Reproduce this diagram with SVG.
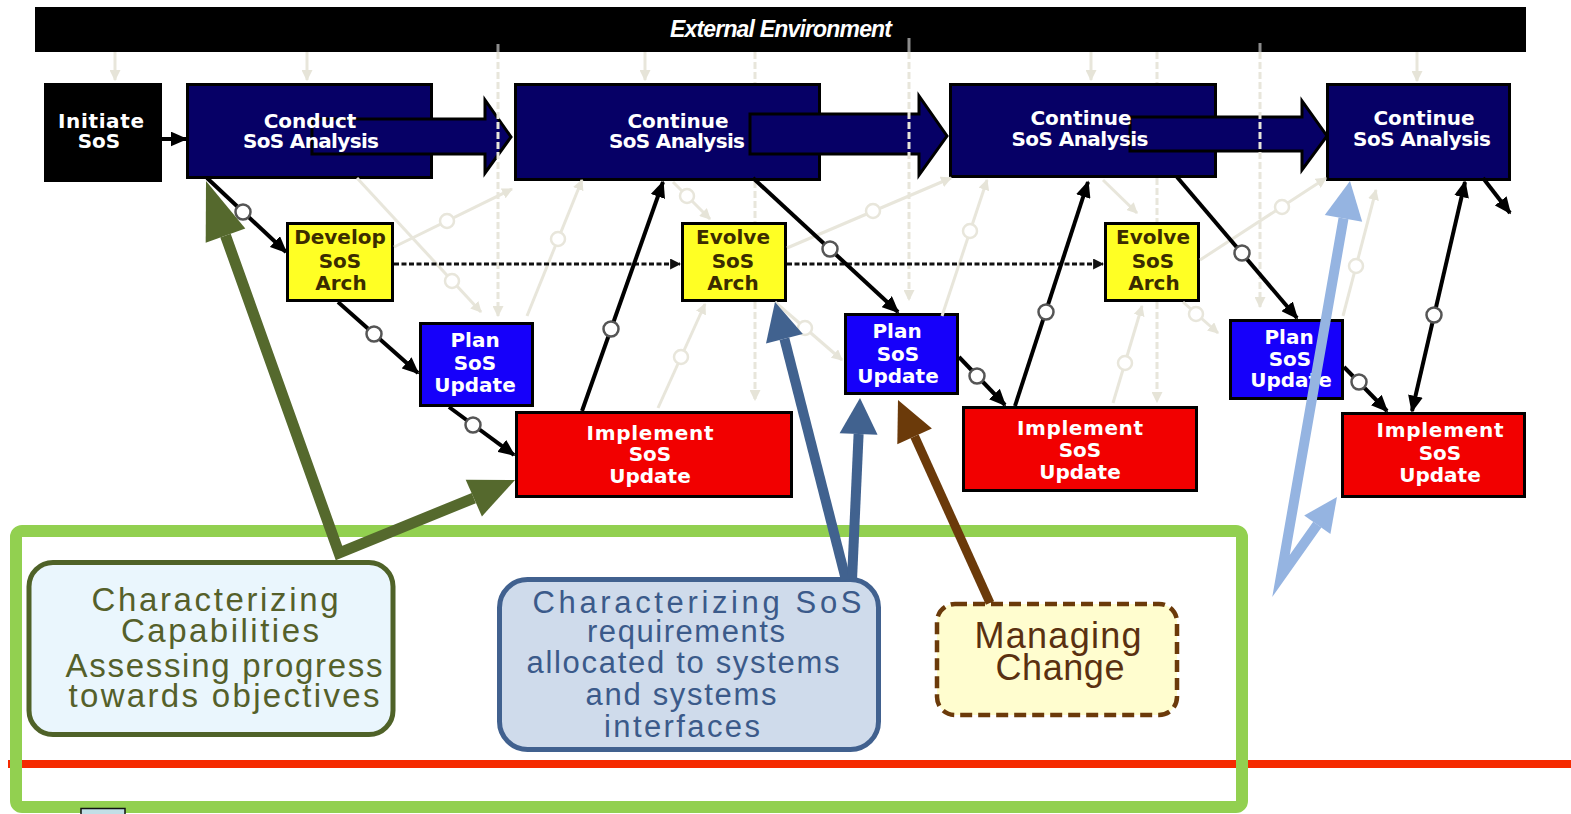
<svg xmlns="http://www.w3.org/2000/svg" width="1571" height="814" viewBox="0 0 1571 814">
  <defs>
    <style>
      .bar { fill: #000; }
      .bar-text { font-family: "Liberation Sans", Arial, sans-serif; font-size: 23px; font-weight: bold; font-style: italic; fill: #fff; text-anchor: middle; }
      .navy { fill: #060066; stroke: #000; stroke-width: 3; }
      .init { fill: #000; }
      .yellow { fill: #ffff24; stroke: #000; stroke-width: 3; }
      .plan { fill: #1600fa; stroke: #000; stroke-width: 3; }
      .impl { fill: #f20000; stroke: #000; stroke-width: 3; }
      .stage-arrow { fill: #060066; stroke: #000; stroke-width: 3; stroke-linejoin: miter; }
      .lbl { font-family: "DejaVu Sans", Verdana, sans-serif; font-size: 20px; font-weight: bold; text-anchor: middle; fill: #fff; }
      .lbl-dark { font-family: "DejaVu Sans", Verdana, sans-serif; font-size: 20px; font-weight: bold; text-anchor: middle; fill: #3b2c00; }
      .ghost line, .ghost path { stroke: #e8e6db; stroke-width: 3; fill: none; }
      .ghost .dash { stroke-dasharray: 7 3; }
      .ghost circle { fill: #fff; stroke: #e8e6db; stroke-width: 2.5; }
      .ghost-tip { fill: #8c8c8c; }
      .flow { stroke: #000; stroke-width: 4; fill: none; }
      .dotted { stroke: #111; stroke-width: 3; stroke-dasharray: 5 2.5; fill: none; }
      .node-dot { fill: #fff; stroke: #555; stroke-width: 2.5; }
      .frame { fill: none; stroke: #92d050; stroke-width: 12; }
      .redline { fill: #f52a00; }
      .note-cap { fill: #eaf6fd; stroke: #4f6228; stroke-width: 5; }
      .note-req { fill: #cfdbeb; stroke: #41618f; stroke-width: 5; }
      .note-chg { fill: #fffdcf; stroke: #6b3a0a; stroke-width: 4.5; stroke-dasharray: 12 6; }
      .note-text { font-family: "Liberation Sans", Arial, sans-serif; text-anchor: middle; }
    </style>
    <marker id="head-black" viewBox="0 0 10 10" markerUnits="userSpaceOnUse" markerWidth="17" markerHeight="15" refX="9" refY="5" orient="auto" preserveAspectRatio="none">
      <path d="M0,0 L10,5 L0,10 Z" fill="#000"/>
    </marker>
    <marker id="head-black-both" viewBox="0 0 10 10" markerUnits="userSpaceOnUse" markerWidth="17" markerHeight="15" refX="9" refY="5" orient="auto-start-reverse" preserveAspectRatio="none">
      <path d="M0,0 L10,5 L0,10 Z" fill="#000"/>
    </marker>
    <marker id="head-small" viewBox="0 0 10 10" markerUnits="userSpaceOnUse" markerWidth="11" markerHeight="11" refX="9" refY="5" orient="auto" preserveAspectRatio="none">
      <path d="M0,0 L10,5 L0,10 Z" fill="#111"/>
    </marker>
    <marker id="head-ghost" viewBox="0 0 10 10" markerUnits="userSpaceOnUse" markerWidth="11" markerHeight="11" refX="9" refY="5" orient="auto" preserveAspectRatio="none">
      <path d="M0,0 L10,5 L0,10 Z" fill="#e6e4d8"/>
    </marker>
  </defs>

  <rect width="1571" height="814" fill="#fff"/>

  <!-- bottom band: red rule and green frame -->
  <rect class="redline" x="8" y="760" width="1563" height="8"/>
  <rect class="frame" x="16" y="531" width="1226" height="276" rx="6"/>
  <rect x="81" y="808.5" width="44" height="12" fill="#c2dfe6" stroke="#111" stroke-width="1.5"/>

  <!-- environment bar -->
  <g id="external-environment">
    <rect class="bar" x="35" y="7" width="1491" height="45"/>
    <text class="bar-text" x="781" y="37" textLength="222">External Environment</text>
  </g>

  <!-- process nodes -->
  <g id="initiate-sos">
    <rect class="init" x="44" y="83" width="118" height="99"/>
    <text class="lbl" x="101" y="128" textLength="86">Initiate</text>
    <text class="lbl" x="99" y="148">SoS</text>
  </g>

  <g id="conduct-sos-analysis">
    <rect class="navy" x="187.5" y="84.5" width="244" height="93"/>
    <path class="stage-arrow" d="M312,119 H485 V100 L511,137 L485,173 V154 H312 Z"/>
    <text class="lbl" x="310" y="128">Conduct</text>
    <text class="lbl" x="311" y="148" textLength="136">SoS Analysis</text>
  </g>

  <g id="continue-sos-analysis-1">
    <rect class="navy" x="515.5" y="84.5" width="304" height="95"/>
    <path class="stage-arrow" d="M750,114 H919 V96 L947,136 L919,175 V154 H750 Z"/>
    <text class="lbl" x="678" y="128">Continue</text>
    <text class="lbl" x="677" y="148" textLength="136">SoS Analysis</text>
  </g>

  <g id="continue-sos-analysis-2">
    <rect class="navy" x="950.5" y="84.5" width="265" height="92"/>
    <path class="stage-arrow" d="M1130,117 H1302 V101 L1327,136 L1302,170 V151 H1130 Z"/>
    <text class="lbl" x="1081" y="125">Continue</text>
    <text class="lbl" x="1080" y="146" textLength="137">SoS Analysis</text>
  </g>

  <g id="continue-sos-analysis-3">
    <rect class="navy" x="1327.5" y="84.5" width="182" height="95"/>
    <text class="lbl" x="1424" y="125">Continue</text>
    <text class="lbl" x="1422" y="146" textLength="138">SoS Analysis</text>
  </g>

  <g id="develop-sos-arch">
    <rect class="yellow" x="287.5" y="223.5" width="105" height="77"/>
    <text class="lbl-dark" x="340" y="244">Develop</text>
    <text class="lbl-dark" x="340" y="268">SoS</text>
    <text class="lbl-dark" x="341" y="290">Arch</text>
  </g>

  <g id="evolve-sos-arch-1">
    <rect class="yellow" x="682.5" y="223.5" width="103" height="77"/>
    <text class="lbl-dark" x="733" y="244">Evolve</text>
    <text class="lbl-dark" x="733" y="268">SoS</text>
    <text class="lbl-dark" x="733" y="290">Arch</text>
  </g>

  <g id="evolve-sos-arch-2">
    <rect class="yellow" x="1105.5" y="223.5" width="93" height="77"/>
    <text class="lbl-dark" x="1153" y="244">Evolve</text>
    <text class="lbl-dark" x="1153" y="268">SoS</text>
    <text class="lbl-dark" x="1154" y="290">Arch</text>
  </g>

  <g id="plan-sos-update-1">
    <rect class="plan" x="420.5" y="323.5" width="112" height="82"/>
    <text class="lbl" x="475" y="347">Plan</text>
    <text class="lbl" x="475" y="370">SoS</text>
    <text class="lbl" x="475" y="392">Update</text>
  </g>

  <g id="plan-sos-update-2">
    <rect class="plan" x="845.5" y="314.5" width="112" height="79"/>
    <text class="lbl" x="897" y="338">Plan</text>
    <text class="lbl" x="898" y="361">SoS</text>
    <text class="lbl" x="898" y="383">Update</text>
  </g>

  <g id="plan-sos-update-3">
    <rect class="plan" x="1230.5" y="320.5" width="112" height="78"/>
    <text class="lbl" x="1289" y="344">Plan</text>
    <text class="lbl" x="1290" y="366">SoS</text>
    <text class="lbl" x="1291" y="387">Update</text>
  </g>

  <g id="implement-sos-update-1">
    <rect class="impl" x="516.5" y="412.5" width="275" height="84"/>
    <text class="lbl" x="650" y="440" textLength="127">Implement</text>
    <text class="lbl" x="650" y="461">SoS</text>
    <text class="lbl" x="650" y="483">Update</text>
  </g>

  <g id="implement-sos-update-2">
    <rect class="impl" x="963.5" y="407.5" width="233" height="83"/>
    <text class="lbl" x="1080" y="435" textLength="126">Implement</text>
    <text class="lbl" x="1080" y="457">SoS</text>
    <text class="lbl" x="1080" y="479">Update</text>
  </g>

  <g id="implement-sos-update-3">
    <rect class="impl" x="1342.5" y="413.5" width="182" height="83"/>
    <text class="lbl" x="1440" y="437" textLength="127">Implement</text>
    <text class="lbl" x="1440" y="460">SoS</text>
    <text class="lbl" x="1440" y="482">Update</text>
  </g>

  <!-- annotation notes -->
  <g id="characterizing-capabilities">
    <rect class="note-cap" x="29" y="562.5" width="364" height="172" rx="24"/>
    <g class="note-text" fill="#55602a" font-size="33">
      <text x="215" y="611" textLength="247">Characterizing</text>
      <text x="220" y="642" textLength="198">Capabilities</text>
      <text x="224" y="677" textLength="317">Assessing progress</text>
      <text x="224" y="707" textLength="311">towards objectives</text>
    </g>
  </g>

  <g id="characterizing-sos-requirements">
    <rect class="note-req" x="499.5" y="579.5" width="379" height="170" rx="28"/>
    <g class="note-text" fill="#3b5a8a" font-size="31">
      <text x="697" y="613" textLength="329">Characterizing SoS</text>
      <text x="686" y="642" textLength="198">requirements</text>
      <text x="683" y="673" textLength="313">allocated to systems</text>
      <text x="681" y="705" textLength="191">and systems</text>
      <text x="682" y="737" textLength="156">interfaces</text>
    </g>
  </g>

  <g id="managing-change">
    <rect class="note-chg" x="937" y="604" width="240" height="111" rx="18"/>
    <g class="note-text" fill="#5a3010" font-size="36">
      <text x="1058" y="648" textLength="167">Managing</text>
      <text x="1060" y="680" textLength="129">Change</text>
    </g>
  </g>

  <!-- faint background flow -->
  <g id="background-flow" class="ghost">
    <rect class="ghost-tip" x="496.5" y="44" width="3" height="8"/>
    <rect class="ghost-tip" x="907.5" y="38" width="3" height="14"/>
    <rect class="ghost-tip" x="1258.5" y="43" width="3" height="9"/>
    <line class="dash" x1="498" y1="52" x2="498" y2="316" marker-end="url(#head-ghost)"/>
    <line class="dash" x1="755" y1="52" x2="755" y2="83"/>
    <line class="dash" x1="755" y1="181" x2="755" y2="222"/>
    <line class="dash" x1="755" y1="302" x2="755" y2="400" marker-end="url(#head-ghost)"/>
    <line class="dash" x1="909" y1="52" x2="909" y2="300" marker-end="url(#head-ghost)"/>
    <line class="dash" x1="1157" y1="52" x2="1157" y2="83"/>
    <line class="dash" x1="1157" y1="178" x2="1157" y2="222"/>
    <line class="dash" x1="1157" y1="302" x2="1157" y2="402" marker-end="url(#head-ghost)"/>
    <line class="dash" x1="1260" y1="52" x2="1260" y2="307" marker-end="url(#head-ghost)"/>
    <line x1="115" y1="52" x2="115" y2="80" marker-end="url(#head-ghost)"/>
    <line x1="307" y1="52" x2="307" y2="80" marker-end="url(#head-ghost)"/>
    <line x1="645" y1="52" x2="645" y2="80" marker-end="url(#head-ghost)"/>
    <line x1="1091" y1="52" x2="1091" y2="80" marker-end="url(#head-ghost)"/>
    <line x1="1417" y1="52" x2="1417" y2="81" marker-end="url(#head-ghost)"/>
    <line x1="357" y1="178" x2="481" y2="312" marker-end="url(#head-ghost)"/>
    <circle cx="452" cy="281" r="7"/>
    <line x1="394" y1="247" x2="512" y2="189" marker-end="url(#head-ghost)"/>
    <circle cx="447" cy="221" r="7"/>
    <line x1="527" y1="316" x2="582" y2="180" marker-end="url(#head-ghost)"/>
    <circle cx="558" cy="239" r="7"/>
    <line x1="673" y1="182" x2="710" y2="219" marker-end="url(#head-ghost)"/>
    <circle cx="687" cy="196" r="7"/>
    <line x1="658" y1="408" x2="705" y2="304" marker-end="url(#head-ghost)"/>
    <circle cx="681" cy="357" r="7"/>
    <line x1="787" y1="248" x2="951" y2="178" marker-end="url(#head-ghost)"/>
    <circle cx="873" cy="211" r="7"/>
    <line x1="942" y1="316" x2="987" y2="180" marker-end="url(#head-ghost)"/>
    <circle cx="970" cy="231" r="7"/>
    <line x1="775" y1="302" x2="842" y2="360" marker-end="url(#head-ghost)"/>
    <circle cx="805" cy="328" r="7"/>
    <line x1="1103" y1="180" x2="1137" y2="213" marker-end="url(#head-ghost)"/>
    <line x1="1200" y1="260" x2="1326" y2="178" marker-end="url(#head-ghost)"/>
    <circle cx="1282" cy="207" r="7"/>
    <line x1="1343" y1="316" x2="1376" y2="190" marker-end="url(#head-ghost)"/>
    <circle cx="1356" cy="266" r="7"/>
    <line x1="1183" y1="302" x2="1218" y2="333" marker-end="url(#head-ghost)"/>
    <circle cx="1196" cy="314" r="7"/>
    <line x1="1113" y1="403" x2="1142" y2="306" marker-end="url(#head-ghost)"/>
    <circle cx="1125" cy="363" r="7"/>
  </g>

  <!-- connectors -->
  <g id="connectors">
    <line class="flow" x1="162" y1="139" x2="186" y2="139" marker-end="url(#head-black)"/>

    <line class="dotted" x1="394" y1="264" x2="680" y2="264" marker-end="url(#head-small)"/>
    <line class="dotted" x1="787" y1="264" x2="1103" y2="264" marker-end="url(#head-small)"/>

    <line class="flow" x1="207" y1="178" x2="286" y2="252" marker-end="url(#head-black)"/>
    <circle class="node-dot" cx="243" cy="212" r="7.5"/>
    <line class="flow" x1="338" y1="302" x2="418" y2="373" marker-end="url(#head-black)"/>
    <circle class="node-dot" cx="374" cy="334" r="7.5"/>
    <line class="flow" x1="449" y1="407" x2="514" y2="455" marker-end="url(#head-black)"/>
    <circle class="node-dot" cx="473" cy="425" r="7.5"/>
    <line class="flow" x1="582" y1="411" x2="663" y2="182" marker-end="url(#head-black)"/>
    <circle class="node-dot" cx="611" cy="329" r="7.5"/>
    <line class="flow" x1="753" y1="178" x2="898" y2="312" marker-end="url(#head-black)"/>
    <circle class="node-dot" cx="830" cy="249" r="7.5"/>
    <line class="flow" x1="959" y1="357" x2="1005" y2="405" marker-end="url(#head-black)"/>
    <circle class="node-dot" cx="977" cy="376" r="7.5"/>
    <line class="flow" x1="1015" y1="406" x2="1088" y2="182" marker-end="url(#head-black)"/>
    <circle class="node-dot" cx="1046" cy="312" r="7.5"/>
    <line class="flow" x1="1177" y1="177" x2="1297" y2="318" marker-end="url(#head-black)"/>
    <circle class="node-dot" cx="1242" cy="253" r="7.5"/>
    <line class="flow" x1="1344" y1="367" x2="1387" y2="411" marker-end="url(#head-black)"/>
    <circle class="node-dot" cx="1359" cy="382" r="7.5"/>
    <line class="flow" x1="1412" y1="411" x2="1465" y2="182" marker-start="url(#head-black-both)" marker-end="url(#head-black-both)"/>
    <circle class="node-dot" cx="1434" cy="315" r="7.5"/>
    <line class="flow" x1="1483" y1="178" x2="1510" y2="213" marker-end="url(#head-black)"/>

    <!-- capability arrows -->
    <polyline points="225.5,235.6 339,553 473.8,498.1" fill="none" stroke="#55692d" stroke-width="11" stroke-linejoin="miter"/>
    <polygon points="206,181 245.3,228.6 205.7,242.7" fill="#55692d"/>
    <polygon points="515,480 481.9,516.4 465.7,479.8" fill="#55692d"/>

    <!-- requirements arrows -->
    <line x1="846" y1="580" x2="784.4" y2="338.8" stroke="#41628f" stroke-width="10"/>
    <line x1="852" y1="580" x2="858.6" y2="434" stroke="#41628f" stroke-width="10"/>
    <polygon points="775,302 802.8,334.1 766,343.5" fill="#41628f"/>
    <polygon points="860,398 877.6,434.7 839.6,433.3" fill="#41628f"/>

    <!-- change arrow -->
    <line x1="990" y1="603" x2="914.6" y2="436.4" stroke="#6b3a0a" stroke-width="9"/>
    <polygon points="898,400 931.9,428.5 897.3,444.3" fill="#6b3a0a"/>

    <!-- progress arrows -->
    <polyline points="1343.5,218.4 1281,576 1317.3,524.7" fill="none" stroke="#95b4e1" stroke-width="10" stroke-linejoin="miter" stroke-miterlimit="8"/>
    <polygon points="1350,181 1362.2,221.7 1324.8,215.1" fill="#95b4e1"/>
    <polygon points="1337,497 1330.4,533.9 1304.2,515.5" fill="#95b4e1"/>
  </g>
</svg>
